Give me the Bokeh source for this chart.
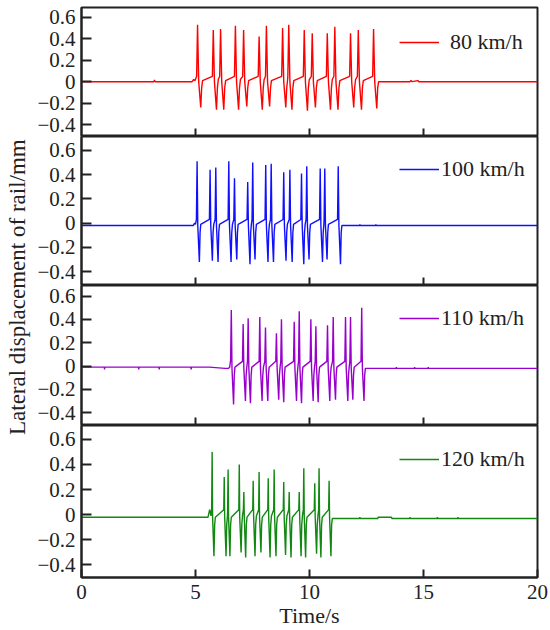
from math import pi
from bokeh.plotting import figure
from bokeh.layouts import row, column
from bokeh.models import (Range1d, FixedTicker, CustomJSTickFormatter, Legend,
                          LegendItem, Label)
from bokeh.embed import file_html
from bokeh.resources import INLINE

# ---------------- data ----------------
x_ticks = [0, 5, 10, 15, 20]
y_ticks = [-0.4, -0.2, 0, 0.2, 0.4, 0.6]
speed_labels = ["80 km/h", "100 km/h", "110 km/h", "120 km/h"]
x_title = "Time/s"
y_title = "Lateral displacement of rail/mm"

time_80 = [0.0, 3.18, 3.20, 3.23, 4.85, 4.92, 4.98,
           5.05, 5.09, 5.14, 5.23, 5.27, 5.31,
           5.74, 5.78, 5.83, 5.92, 5.96, 6.00,
           6.06, 6.10, 6.15, 6.24, 6.28, 6.32,
           6.71, 6.75, 6.80, 6.89, 6.93, 6.97,
           7.07, 7.11, 7.16, 7.25, 7.29, 7.33,
           7.75, 7.79, 7.84, 7.93, 7.97, 8.01,
           8.07, 8.11, 8.16, 8.25, 8.29, 8.33,
           8.78, 8.82, 8.87, 8.96, 9.00, 9.04,
           9.05, 9.09, 9.14, 9.23, 9.27, 9.31,
           9.73, 9.77, 9.82, 9.91, 9.95, 9.99,
           10.08, 10.12, 10.17, 10.26, 10.30, 10.34,
           10.74, 10.78, 10.83, 10.92, 10.96, 11.00,
           11.07, 11.11, 11.16, 11.25, 11.29, 11.33,
           11.76, 11.80, 11.85, 11.94, 11.98, 12.02,
           12.10, 12.14, 12.19, 12.28, 12.32, 12.36,
           12.77, 12.81, 12.86, 12.95, 12.99, 13.03,
           14.40, 14.45, 14.50, 14.75, 14.80, 20.0]
disp_80 = [0.0, 0.0, 0.015, 0.0, 0.0, 0.02, 0.01,
           0.05, 0.53, 0.00, -0.24, -0.06, 0.01,
           0.05, 0.48, 0.00, -0.26, -0.06, 0.02,
           0.05, 0.49, 0.00, -0.26, -0.06, 0.01,
           0.05, 0.52, 0.00, -0.26, -0.06, 0.02,
           0.05, 0.48, 0.00, -0.23, -0.06, 0.01,
           0.05, 0.42, 0.00, -0.26, -0.06, 0.02,
           0.05, 0.52, 0.00, -0.23, -0.06, 0.01,
           0.05, 0.50, 0.00, -0.24, -0.06, 0.02,
           0.05, 0.53, 0.00, -0.26, -0.06, 0.01,
           0.05, 0.48, 0.00, -0.27, -0.06, 0.02,
           0.05, 0.45, 0.00, -0.24, -0.06, 0.01,
           0.05, 0.45, 0.00, -0.26, -0.06, 0.02,
           0.05, 0.51, 0.00, -0.26, -0.06, 0.01,
           0.05, 0.45, 0.00, -0.24, -0.06, 0.02,
           0.05, 0.48, 0.00, -0.26, -0.06, 0.01,
           0.05, 0.49, 0.00, -0.25, -0.06, 0.00,
           0.0, 0.01, 0.0, 0.01, 0.0, 0.0]

time_100 = [0.0, 4.90, 4.96, 5.00,
            5.04, 5.07, 5.10, 5.17, 5.20, 5.23,
            5.61, 5.64, 5.67, 5.74, 5.77, 5.80,
            5.86, 5.89, 5.92, 5.99, 6.02, 6.05,
            6.43, 6.46, 6.49, 6.56, 6.59, 6.62,
            6.68, 6.71, 6.74, 6.81, 6.84, 6.87,
            7.26, 7.29, 7.32, 7.39, 7.42, 7.45,
            7.48, 7.51, 7.54, 7.61, 7.64, 7.67,
            8.05, 8.08, 8.11, 8.18, 8.21, 8.24,
            8.29, 8.32, 8.35, 8.42, 8.45, 8.48,
            8.84, 8.87, 8.90, 8.97, 9.00, 9.03,
            9.11, 9.14, 9.17, 9.24, 9.27, 9.30,
            9.62, 9.65, 9.68, 9.75, 9.78, 9.81,
            9.85, 9.88, 9.91, 9.98, 10.01, 10.04,
            10.44, 10.47, 10.50, 10.57, 10.60, 10.63,
            10.64, 10.67, 10.70, 10.77, 10.80, 10.83,
            11.23, 11.26, 11.29, 11.36, 11.39, 11.42,
            11.50, 12.20, 12.21, 12.22, 12.90, 12.91, 12.92, 13.40, 20.0]
disp_100 = [-0.02, -0.02, 0.0, -0.01,
            0.03, 0.51, -0.02, -0.32, -0.08, -0.01,
            0.03, 0.44, -0.02, -0.31, -0.08, -0.01,
            0.03, 0.46, -0.02, -0.32, -0.08, -0.01,
            0.03, 0.51, -0.02, -0.32, -0.08, -0.01,
            0.03, 0.37, -0.02, -0.30, -0.08, -0.01,
            0.03, 0.34, -0.02, -0.34, -0.08, -0.01,
            0.03, 0.50, -0.02, -0.30, -0.08, -0.01,
            0.03, 0.48, -0.02, -0.32, -0.08, -0.01,
            0.03, 0.49, -0.02, -0.32, -0.08, -0.01,
            0.03, 0.42, -0.02, -0.31, -0.08, -0.01,
            0.03, 0.44, -0.02, -0.32, -0.08, -0.01,
            0.03, 0.41, -0.02, -0.34, -0.08, -0.01,
            0.03, 0.47, -0.02, -0.30, -0.08, -0.01,
            0.03, 0.45, -0.02, -0.32, -0.08, -0.01,
            0.03, 0.45, -0.02, -0.30, -0.08, -0.01,
            0.03, 0.47, -0.02, -0.34, -0.08, -0.02,
            -0.02, -0.02, -0.01, -0.02, -0.02, -0.01, -0.02, -0.02, -0.02]

time_110 = [0.0, 1.00, 1.01, 1.02, 2.50, 2.51, 2.52, 3.40, 3.41, 3.42,
            4.80, 4.81, 4.82, 5.60, 6.30, 6.45, 6.50,
            6.54, 6.57, 6.60, 6.67, 6.70, 6.73,
            7.06, 7.09, 7.12, 7.19, 7.22, 7.25,
            7.28, 7.31, 7.34, 7.41, 7.44, 7.47,
            7.79, 7.82, 7.85, 7.92, 7.95, 7.98,
            8.04, 8.07, 8.10, 8.17, 8.20, 8.23,
            8.52, 8.55, 8.58, 8.65, 8.68, 8.71,
            8.74, 8.77, 8.80, 8.87, 8.90, 8.93,
            9.30, 9.33, 9.36, 9.43, 9.46, 9.49,
            9.52, 9.55, 9.58, 9.65, 9.68, 9.71,
            10.03, 10.06, 10.09, 10.16, 10.19, 10.22,
            10.25, 10.28, 10.31, 10.38, 10.41, 10.44,
            10.76, 10.79, 10.82, 10.89, 10.92, 10.95,
            11.01, 11.04, 11.07, 11.14, 11.17, 11.20,
            11.55, 11.58, 11.61, 11.68, 11.71, 11.74,
            11.77, 11.80, 11.83, 11.90, 11.93, 11.96,
            12.26, 12.29, 12.32, 12.39, 12.42, 12.45,
            12.55, 13.80, 13.81, 13.82, 14.60, 14.61, 14.62, 15.20, 15.21, 15.22, 20.0]
disp_110 = [-0.01, -0.01, -0.03, -0.01, -0.01, -0.03, -0.01, -0.01, -0.03, -0.01,
            -0.01, -0.03, -0.01, -0.01, -0.02, -0.02, -0.01,
            0.05, 0.48, -0.02, -0.33, -0.08, -0.01,
            0.04, 0.36, -0.02, -0.30, -0.08, -0.01,
            0.04, 0.41, -0.02, -0.32, -0.08, -0.01,
            0.04, 0.42, -0.02, -0.30, -0.08, -0.01,
            0.04, 0.33, -0.02, -0.30, -0.08, -0.01,
            0.04, 0.28, -0.02, -0.29, -0.08, -0.01,
            0.04, 0.40, -0.02, -0.31, -0.08, -0.01,
            0.04, 0.38, -0.02, -0.30, -0.08, -0.01,
            0.04, 0.47, -0.02, -0.32, -0.08, -0.01,
            0.04, 0.40, -0.02, -0.30, -0.08, -0.01,
            0.04, 0.34, -0.02, -0.31, -0.08, -0.01,
            0.04, 0.35, -0.02, -0.30, -0.08, -0.01,
            0.04, 0.42, -0.02, -0.29, -0.08, -0.01,
            0.04, 0.42, -0.02, -0.30, -0.08, -0.01,
            0.04, 0.42, -0.02, -0.29, -0.08, -0.01,
            0.04, 0.50, -0.02, -0.30, -0.08, -0.02,
            -0.02, -0.02, -0.01, -0.02, -0.02, -0.01, -0.02, -0.02, -0.01, -0.02, -0.02]

time_120 = [0.0, 5.55, 5.62, 5.68,
            5.71, 5.73, 5.75, 5.81, 5.84, 5.87,
            6.24, 6.26, 6.28, 6.34, 6.37, 6.40,
            6.41, 6.43, 6.45, 6.51, 6.54, 6.57,
            6.90, 6.92, 6.94, 7.00, 7.03, 7.06,
            7.10, 7.12, 7.14, 7.20, 7.23, 7.26,
            7.51, 7.53, 7.55, 7.61, 7.64, 7.67,
            7.77, 7.79, 7.81, 7.87, 7.90, 7.93,
            8.17, 8.19, 8.21, 8.27, 8.30, 8.33,
            8.43, 8.45, 8.47, 8.53, 8.56, 8.59,
            8.85, 8.87, 8.89, 8.95, 8.98, 9.01,
            9.09, 9.11, 9.13, 9.19, 9.22, 9.25,
            9.53, 9.55, 9.57, 9.63, 9.66, 9.69,
            9.73, 9.75, 9.77, 9.83, 9.86, 9.89,
            10.21, 10.23, 10.25, 10.31, 10.34, 10.37,
            10.40, 10.42, 10.44, 10.50, 10.53, 10.56,
            10.84, 10.86, 10.88, 10.94, 10.97, 11.00,
            11.20, 12.20, 12.21, 12.22, 13.00, 13.01, 13.60, 13.61,
            14.40, 14.41, 14.42, 15.60, 15.61, 15.62, 16.50, 16.51, 16.52, 20.0]
disp_120 = [-0.02, -0.02, 0.04, -0.01,
            0.05, 0.50, -0.02, -0.33, -0.08, -0.02,
            0.04, 0.30, -0.02, -0.33, -0.08, -0.01,
            0.04, 0.36, -0.02, -0.33, -0.08, -0.02,
            0.04, 0.40, -0.02, -0.30, -0.08, -0.01,
            0.04, 0.18, -0.02, -0.34, -0.08, -0.02,
            0.04, 0.27, -0.02, -0.33, -0.08, -0.01,
            0.04, 0.34, -0.02, -0.30, -0.08, -0.02,
            0.04, 0.29, -0.02, -0.34, -0.08, -0.01,
            0.04, 0.36, -0.02, -0.33, -0.08, -0.02,
            0.04, 0.26, -0.02, -0.32, -0.08, -0.01,
            0.04, 0.18, -0.02, -0.34, -0.08, -0.02,
            0.04, 0.18, -0.02, -0.33, -0.08, -0.01,
            0.04, 0.37, -0.02, -0.34, -0.08, -0.02,
            0.04, 0.25, -0.02, -0.31, -0.08, -0.01,
            0.04, 0.37, -0.02, -0.34, -0.08, -0.02,
            0.04, 0.27, -0.02, -0.33, -0.08, -0.03,
            -0.03, -0.03, -0.02, -0.03, -0.03, -0.02, -0.02, -0.03,
            -0.03, -0.02, -0.03, -0.03, -0.02, -0.03, -0.03, -0.02, -0.03, -0.03]

# ---------------- styling ----------------
FONT = "Liberation Serif"
TXT = "#222222"
colors = ["#ff0000", "#1010ff", "#9a00cc", "#118811"]

y_fmt = CustomJSTickFormatter(code="""
if (Math.abs(tick) < 1e-9) { return '0'; }
var s = Math.abs(tick).toFixed(1);
return tick < 0 ? '\u2212' + s : s;
""")


def make_panel(t, d, color, label, height, y_lo, y_hi, bottom, top_border,
               legend_xy, standoff):
    p = figure(width=516, height=height, x_range=Range1d(0, 20),
               y_range=Range1d(y_lo, y_hi), output_backend="svg",
               toolbar_location=None, min_border_left=46, min_border_right=13,
               min_border_top=top_border, min_border_bottom=(53 if bottom else 0))
    r = p.line(t, d, line_color=color, line_width=1.4)
    p.xgrid.visible = False
    p.ygrid.visible = False
    p.outline_line_color = "#222222"
    p.outline_line_width = 2
    p.background_fill_color = "white"
    p.border_fill_color = "white"

    ya = p.yaxis[0]
    ya.ticker = FixedTicker(ticks=y_ticks)
    ya.formatter = y_fmt
    ya.major_tick_in = 10
    ya.major_tick_out = 0
    ya.minor_tick_line_color = None
    ya.major_tick_line_width = 2
    ya.axis_line_width = 2
    ya.axis_line_color = "#222222"
    ya.major_tick_line_color = "#222222"
    ya.major_label_text_font = FONT
    ya.major_label_text_font_size = "21px"
    ya.major_label_text_color = TXT
    ya.major_label_standoff = 6

    xa = p.xaxis[0]
    xa.major_tick_in = 8
    xa.major_tick_out = 0
    xa.minor_tick_line_color = None
    xa.major_tick_line_width = 2
    xa.axis_line_width = 2
    xa.axis_line_color = "#222222"
    xa.major_tick_line_color = "#222222"
    if bottom:
        xa.ticker = FixedTicker(ticks=x_ticks)
        xa.major_label_text_font = FONT
        xa.major_label_text_font_size = "21px"
        xa.major_label_text_color = TXT
        xa.major_label_standoff = 7
        xa.axis_label = x_title
        xa.axis_label_text_font = FONT
        xa.axis_label_text_font_style = "normal"
        xa.axis_label_text_font_size = "22px"
        xa.axis_label_text_color = TXT
        xa.axis_label_standoff = 1
    else:
        xa.ticker = FixedTicker(ticks=x_ticks[1:-1])
        xa.major_label_text_color = None
        xa.major_label_text_font_size = "0px"
        xa.major_label_standoff = 0

    leg = Legend(items=[LegendItem(label=label, renderers=[r])],
                 location=legend_xy, border_line_color=None,
                 background_fill_alpha=0, label_text_font=FONT,
                 label_text_font_size="22px", label_text_color=TXT,
                 glyph_width=40, glyph_height=20, label_height=20,
                 padding=0, margin=0, spacing=0, label_standoff=standoff)
    p.add_layout(leg)
    return p


p1 = make_panel(time_80, disp_80, colors[0], speed_labels[0], 136, -0.51, 0.69,
                False, 7, (318, 81), 11)
p2 = make_panel(time_100, disp_100, colors[1], speed_labels[1], 149, -0.515, 0.715,
                False, 0, (318, 103), 2)
p3 = make_panel(time_110, disp_110, colors[2], speed_labels[2], 140, -0.51, 0.69,
                False, 0, (318, 94), 2)
p4 = make_panel(time_120, disp_120, colors[3], speed_labels[3], 205, -0.50, 0.71,
                True, 0, (318, 105), 2)

lab = figure(width=34, height=630, x_range=Range1d(0, 1), y_range=Range1d(0, 1),
             output_backend="svg", toolbar_location=None, min_border=0)
lab.axis.visible = False
lab.grid.visible = False
lab.outline_line_color = None
lab.add_layout(Label(x=0.5, y=0.545, text=y_title, angle=pi / 2,
                     text_align="center", text_baseline="middle",
                     text_font=FONT, text_font_size="23px", text_color=TXT))

layout = row(lab, column(p1, p2, p3, p4, spacing=0), spacing=0)

open("out.html", "w").write(file_html(layout, INLINE))
